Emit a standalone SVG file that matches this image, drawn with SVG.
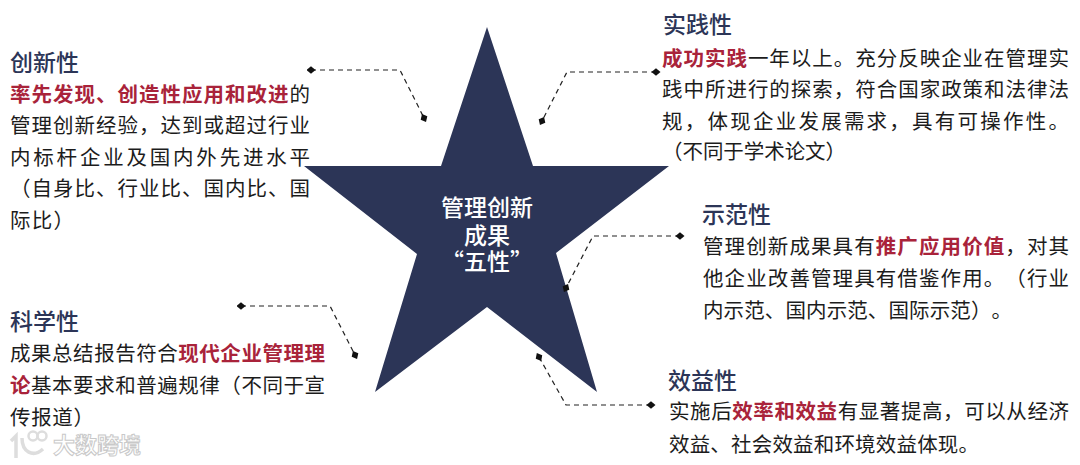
<svg xmlns="http://www.w3.org/2000/svg" width="1080" height="465" viewBox="0 0 1080 465">
<style>
text{font-family:"Noto Sans CJK SC","Noto Sans",sans-serif;text-spacing-trim:space-all;font-feature-settings:"chws" 0,"palt" 0;}
.t{font-size:23px;font-weight:500;fill:#2c3557;}
.b{font-size:20.5px;fill:#1c1c1c;}
.r{fill:#a9233a;font-weight:700;}
.c{font-size:23px;font-weight:500;fill:#fff;text-anchor:middle;}
.l{fill:none;stroke:#222;stroke-width:1.2;stroke-dasharray:5 4;marker-start:url(#d);marker-end:url(#d);}
.w{font-size:22px;font-weight:700;fill:#fff;stroke:#c9c9c9;stroke-width:1;}
</style>
<defs><marker id="d" markerUnits="userSpaceOnUse" markerWidth="9" markerHeight="9" refX="4.5" refY="4.5" orient="auto"><path d="M0 4.5L4.5 0.8L9 4.5L4.5 8.2Z" fill="#111"/></marker></defs>
<rect width="1080" height="465" fill="#fff"/>
<g id="star"><polygon points="487,27 533,166 669,166 556,253 597,392 487,307 375,392 417,254 304,166 441,166" fill="#2c3557"/>
<text class="c"><tspan x="487" y="216">管理创新</tspan><tspan x="487" y="244">成果</tspan><tspan x="487" y="270">“五性”</tspan></text></g>
<g id="connectors">
<path class="l" d="M311 70H400L424 118"/>
<path class="l" d="M656 72H567L542 121"/>
<path class="l" d="M680 236H593L566 288"/>
<path class="l" d="M651 405H566L539 357"/>
<path class="l" d="M241 306H330L355 355"/>
</g>
<g id="chuangxin"><text class="t" x="10" y="71">创新性</text>
<text class="b" x="10" y="102" textLength="300"><tspan class="r">率先发现、创造性应用和改进</tspan>的</text>
<text class="b" x="10" y="133" textLength="300">管理创新经验，达到或超过行业</text>
<text class="b" x="10" y="165" textLength="300">内标杆企业及国内外先进水平</text>
<text class="b" x="10" y="196" textLength="300">（自身比、行业比、国内比、国</text>
<text class="b" x="10" y="228" textLength="64">际比）</text></g>
<g id="kexue"><text class="t" x="10" y="330">科学性</text>
<text class="b" x="10" y="361" textLength="315">成果总结报告符合<tspan class="r">现代企业管理理</tspan></text>
<text class="b" x="10" y="393" textLength="315"><tspan class="r">论</tspan>基本要求和普遍规律（不同于宣</text>
<text class="b" x="10" y="425" textLength="84">传报道）</text></g>
<g id="shijian"><text class="t" x="663" y="33">实践性</text>
<text class="b" x="662" y="66" textLength="407"><tspan class="r">成功实践</tspan>一年以上。充分反映企业在管理实</text>
<text class="b" x="662" y="97" textLength="407">践中所进行的探索，符合国家政策和法律法</text>
<text class="b" x="662" y="129" textLength="407">规，体现企业发展需求，具有可操作性。</text>
<text class="b" x="662" y="159" textLength="184">（不同于学术论文）</text></g>
<g id="shifan"><text class="t" x="702" y="223">示范性</text>
<text class="b" x="703" y="254" textLength="366">管理创新成果具有<tspan class="r">推广应用价值</tspan>，对其</text>
<text class="b" x="703" y="286" textLength="366">他企业改善管理具有借鉴作用。（行业</text>
<text class="b" x="703" y="318" textLength="309">内示范、国内示范、国际示范）。</text></g>
<g id="xiaoyi"><text class="t" x="668" y="389">效益性</text>
<text class="b" x="669" y="419" textLength="400">实施后<tspan class="r">效率和效益</tspan>有显著提高，可以从经济</text>
<text class="b" x="669" y="452" textLength="310">效益、社会效益和环境效益体现。</text></g>
<g id="watermark"><path d="M11 441L16 436V458M22 438C22 452 33 458 43 449" fill="none" stroke="#ddd" stroke-width="3.5"/><circle cx="33" cy="436" r="4.5" fill="none" stroke="#ddd" stroke-width="2.5"/><circle cx="42" cy="436" r="4.5" fill="none" stroke="#ddd" stroke-width="2.5"/>
<text class="w" x="53" y="453">大数跨境</text></g>
</svg>
